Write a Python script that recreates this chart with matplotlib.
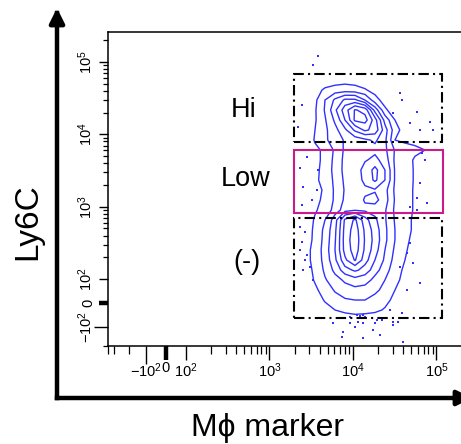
import numpy as np
import matplotlib
matplotlib.use('Agg')
import matplotlib.pyplot as plt
from matplotlib.patches import Rectangle, FancyArrowPatch
from matplotlib.ticker import FixedLocator, NullFormatter

plt.rcParams['font.family'] = ['Liberation Sans', 'DejaVu Sans']
plt.rcParams['mathtext.fontset'] = 'custom'
plt.rcParams['mathtext.rm'] = 'Liberation Sans'
plt.rcParams['mathtext.it'] = 'Liberation Sans:italic'
plt.rcParams['mathtext.bf'] = 'Liberation Sans:bold'

# ---------------- data ----------------
# density grid (Mphi marker on x, Ly6C on y)
grid_x = [2020, 2660, 3510, 4620, 6090, 8020, 10560, 13930, 18330, 24160,
          31840, 41960, 55300, 72780, 95900]
grid_y = [70600, 56500, 41100, 29900, 21750, 15820, 11510, 8370, 6090, 4430,
          3220, 2340, 1700, 1240, 900, 655, 476, 346, 252, 183, 133, 96, 54,
          12.5, -29, -71, -110]
density = [
    [0, 0, 0, 0, 0, 0, 0, 0, 0, 0, 0, 0, 0, 0, 0],
    [0, 0, 0, 0.2, 0.5, 0.6, 0.5, 0.3, 0, 0, 0, 0, 0, 0, 0],
    [0, 0, 0.6, 1.2, 1.4, 1.5, 1.4, 1.1, 0.6, 0.2, 0, 0, 0, 0, 0],
    [0, 0.2, 0.8, 2.0, 3.2, 4.2, 4.2, 3.0, 1.4, 0.5, 0.1, 0, 0, 0, 0],
    [0, 0.3, 0.9, 2.1, 3.8, 5.6, 7.1, 6.6, 3.6, 1.2, 0.3, 0, 0, 0, 0],
    [0, 0.3, 0.9, 1.9, 3.2, 5.0, 7.2, 7.4, 5.4, 2.6, 1.0, 0.3, 0, 0, 0],
    [0, 0.3, 1.0, 1.8, 2.7, 3.8, 5.2, 6.2, 5.6, 3.4, 1.4, 0.5, 0.2, 0, 0],
    [0, 0.3, 1.1, 1.8, 2.6, 3.1, 3.5, 3.8, 4.2, 3.2, 1.0, 0.8, 0.7, 0.4, 0],
    [0, 0.2, 0.8, 1.2, 2.2, 3.2, 3.4, 3.6, 3.7, 3.2, 1.9, 1.4, 1.2, 1.0, 0],
    [0, 0.3, 0.7, 1.3, 2.3, 3.3, 3.5, 3.9, 4.3, 3.5, 1.8, 1.3, 0.9, 0.3, 0],
    [0, 0.4, 0.8, 1.3, 2.4, 3.3, 3.5, 4.4, 5.3, 4.0, 1.9, 1.4, 0.9, 0.3, 0],
    [0, 0.4, 0.9, 1.2, 2.3, 3.2, 3.4, 4.3, 5.2, 4.0, 1.9, 1.4, 0.9, 0.3, 0],
    [0, 0.3, 0.8, 1.1, 2.2, 3.1, 3.3, 3.8, 3.9, 3.3, 1.8, 1.3, 0.9, 0.2, 0],
    [0, 0.3, 0.8, 1.2, 2.2, 3.2, 3.5, 4.1, 4.3, 3.4, 1.9, 1.3, 0.9, 0.2, 0],
    [0, 0.4, 0.9, 1.4, 2.4, 3.6, 3.9, 3.8, 3.6, 3.1, 1.8, 1.3, 0.9, 0.2, 0],
    [0, 0.5, 1.1, 2.0, 3.6, 6.2, 7.2, 5.4, 4.2, 3.1, 1.9, 1.3, 0.8, 0.2, 0],
    [0, 0.5, 1.2, 2.3, 3.8, 6.4, 7.5, 5.8, 4.5, 3.2, 2.0, 1.3, 0.8, 0.2, 0],
    [0, 0.6, 1.2, 2.4, 3.9, 6.5, 7.6, 5.9, 4.6, 3.2, 2.0, 1.2, 0.7, 0.1, 0],
    [0, 0.7, 1.3, 2.5, 4.0, 6.4, 7.5, 5.8, 4.4, 3.0, 1.8, 1.1, 0.6, 0.1, 0],
    [0, 0.7, 1.3, 2.4, 3.8, 5.8, 7.1, 5.4, 4.0, 2.8, 1.6, 1.0, 0.5, 0, 0],
    [0, 0.6, 1.2, 2.2, 3.3, 4.6, 5.2, 4.6, 3.4, 2.4, 1.4, 0.8, 0.3, 0, 0],
    [0, 0.5, 1.1, 1.9, 2.6, 3.2, 3.6, 3.4, 2.7, 2.0, 1.3, 0.6, 0.2, 0, 0],
    [0, 0.3, 0.8, 1.5, 2.1, 2.5, 2.7, 2.6, 2.2, 1.7, 1.0, 0.4, 0, 0, 0],
    [0, 0.1, 0.5, 1.1, 1.6, 1.9, 2.0, 2.0, 1.7, 1.3, 0.7, 0.2, 0, 0, 0],
    [0, 0, 0.2, 0.6, 1.0, 1.2, 1.3, 1.3, 1.2, 0.9, 0.4, 0, 0, 0, 0],
    [0, 0, 0, 0, 0.3, 0.5, 0.6, 0.5, 0.4, 0.2, 0, 0, 0, 0, 0],
    [0, 0, 0, 0, 0, 0, 0, 0, 0, 0, 0, 0, 0, 0, 0],
]
contour_levels = [1, 2, 3, 4, 5, 6, 7]

# outlier events
dot_x = [3810, 3320, 2450, 2190, 36560, 38640, 58340, 83560, 90780, 63390,
         48190, 30130, 2810, 2320, 3810, 2520, 3710, 3230, 2450, 66990,
         72780, 63390, 58340, 76910, 48190, 58340, 2320, 2660, 2450, 2320,
         2810, 2660, 3050, 2520, 3320, 48190, 44360, 36560, 52360, 63390,
         44360, 27730, 38640, 11170, 12130, 13180, 13930, 9200, 9200, 13180,
         19360, 30130, 5760, 7590, 7380, 10560, 11480, 13180, 17380, 21040,
         18330, 30130, 34590, 39720, 22230]
dot_y = [121300, 91200, 25500, 12660, 37400, 29900, 20400, 14860, 11510, 11510,
         14380, 19800, 4870, 3430, 3220, 1870, 1700, 1240, 1060, 5530,
         4430, 2130, 1320, 1120, 991, 900, 524, 447, 325, 252,
         215, 183, 147, 133, 96, 315, 229, 147, 166, 83,
         54, -29, -42, -50, -54, -50, -58, -58, -83, -83,
         -71, -79, -83, -117, -138, -100, -79, -143, -110, -129,
         -83, -92, -79, -161, -71]

# gates
gate_names = ['Hi', 'Low', '(-)']
gate_x0 = [1960, 1960, 1960]
gate_x1 = [116400, 119700, 116400]
gate_y0 = [7850, 818, -62]
gate_y1 = [68000, 6090, 698]
gate_colors = ['black', '#cc1a8c', 'black']
gate_styles = [(0, (5, 2, 1, 2)), 'solid', (0, (5, 2, 1, 2))]

x_major = [-100, 0, 100, 1000, 10000, 100000]
x_labels = ['$-10^2$', '0', '$10^2$', '$10^3$', '$10^4$', '$10^5$']
y_major = [-100, 0, 100, 1000, 10000, 100000]
y_labels = ['$-10^2$', '0', '$10^2$', '$10^3$', '$10^4$', '$10^5$']

x_label = 'M\u03d5 marker'
y_label = 'Ly6C'

# ---------------- figure ----------------
fig = plt.figure(figsize=(4.61, 4.44), dpi=100)
ax = fig.add_axes([0.23427, 0.22072, 0.7883, 0.70743])
ax.set_xscale('symlog', linthresh=100, linscale=0.2156)
ax.set_yscale('symlog', linthresh=100, linscale=0.2988)
xmin, xmax = -285, 262144
ymin, ymax = -183, 262144
ax.set_xlim(xmin, xmax)
ax.set_ylim(ymin, ymax)

blue = '#3030ff'
ax.contour(grid_x, grid_y, np.array(density), levels=contour_levels,
           colors=blue, linewidths=1.0)
ax.scatter(dot_x, dot_y, s=4.5, marker='s', color=blue, linewidths=0, zorder=3)

for x0, x1, y0, y1, c, ls in zip(gate_x0, gate_x1, gate_y0, gate_y1,
                                  gate_colors, gate_styles):
    ax.add_patch(Rectangle((x0, y0), x1 - x0, y1 - y0, fill=False,
                           edgecolor=c, linewidth=1.5, linestyle=ls, zorder=4))

# ticks
decades = [100, 1000, 10000]
x_minor = [xmin, -240, -160] + [k * d for d in decades for k in range(2, 10)] + [200000]
y_minor = [ymin] + [k * d for d in decades for k in range(2, 10)] + [200000]
ax.xaxis.set_major_locator(FixedLocator(x_major))
ax.xaxis.set_minor_locator(FixedLocator(x_minor))
ax.yaxis.set_major_locator(FixedLocator(y_major))
ax.yaxis.set_minor_locator(FixedLocator(y_minor))
ax.set_xticklabels(x_labels)
ax.set_yticklabels(y_labels)
ax.xaxis.set_minor_formatter(NullFormatter())
ax.yaxis.set_minor_formatter(NullFormatter())

ax.tick_params(axis='x', which='major', length=10, width=1.0, pad=1.0,
               labelsize=10.5, direction='out')
ax.tick_params(axis='x', which='minor', length=5.5, width=0.9, direction='out')
ax.tick_params(axis='y', which='major', length=6.5, width=1.0, pad=2.5,
               labelsize=10.5, direction='out', labelrotation=90)
ax.tick_params(axis='y', which='minor', length=3.6, width=0.9, direction='out')
for lab in ax.get_yticklabels():
    lab.set_va('center')

for t, v in zip(ax.xaxis.get_major_ticks(), x_major):
    if v == 0:
        t.tick1line.set_markeredgewidth(3.2)
    if v == -100:
        t.tick1line.set_markersize(13)
for t, v in zip(ax.yaxis.get_major_ticks(), y_major):
    if v == 0:
        t.tick1line.set_markeredgewidth(3.2)
    if v == -100:
        t.tick1line.set_markersize(10)

for s in ['left', 'top', 'bottom']:
    ax.spines[s].set_linewidth(1.1)
ax.spines['right'].set_visible(False)

# gate labels
label_pos = [(0.5293, 0.7523), (0.5336, 0.5968), (0.5358, 0.4099)]
for name, (fx, fy) in zip(gate_names, label_pos):
    fig.text(fx, fy, name, fontsize=19.5, ha='center', va='center')

# axis arrows
W, H = 461.0, 444.0
ax_x0 = 57 / W
ax_y0 = 1 - 398 / H
arr_v = FancyArrowPatch((ax_x0, ax_y0), (ax_x0, 1 - 8 / H), transform=fig.transFigure,
                        arrowstyle='-|>', mutation_scale=22, lw=3.2, color='black',
                        shrinkA=0, shrinkB=0, capstyle='projecting')
arr_h = FancyArrowPatch((ax_x0, ax_y0), (472 / W, ax_y0), transform=fig.transFigure,
                        arrowstyle='-|>', mutation_scale=22, lw=3.2, color='black',
                        shrinkA=0, shrinkB=0, capstyle='projecting')
fig.add_artist(arr_v)
fig.add_artist(arr_h)

fig.text(28 / W, 0.5, y_label, fontsize=24, rotation=90, ha='center', va='center')
fig.text(267 / W, 1 - 436 / H, x_label, fontsize=23, ha='center', va='baseline')

fig.savefig('out.png', dpi=100)
